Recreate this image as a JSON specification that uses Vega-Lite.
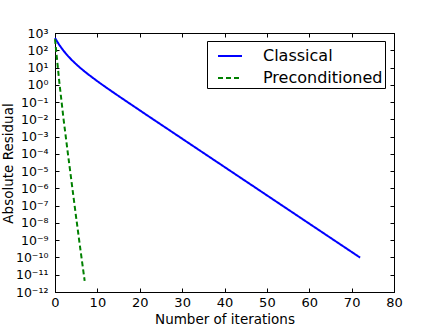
{
  "$schema": "https://vega.github.io/schema/vega-lite/v6.json",
  "width": 339,
  "height": 259,
  "autosize": {"type": "none"},
  "padding": {"left": 55, "top": 33, "right": 45, "bottom": 37},
  "background": "white",
  "config": {
    "font": "DejaVu Sans",
    "view": {"stroke": "#000", "strokeWidth": 1},
    "axis": {
      "grid": false,
      "domainColor": "#000",
      "tickColor": "#000",
      "labelColor": "#000",
      "titleColor": "#000",
      "labelFontSize": 13,
      "titleFontSize": 13.5,
      "titleFontWeight": "normal",
      "tickSize": -4,
      "labelFlush": false,
      "labelOverlap": false
    },
    "legend": {
      "symbolType": "stroke",
      "symbolSize": 576,
      "symbolStrokeWidth": 2,
      "labelFontSize": 16,
      "labelColor": "#000",
      "padding": 2,
      "rowPadding": 1,
      "symbolOffset": 8,
      "labelOffset": 20,
      "strokeColor": "#000",
      "fillColor": "#fff",
      "cornerRadius": 0
    }
  },
  "data": {
    "values": [
      {"iteration": 0, "residual": 513, "method": "Classical"},
      {"iteration": 1, "residual": 206, "method": "Classical"},
      {"iteration": 2, "residual": 94.8, "method": "Classical"},
      {"iteration": 3, "residual": 48.4, "method": "Classical"},
      {"iteration": 4, "residual": 26.5, "method": "Classical"},
      {"iteration": 5, "residual": 15.5, "method": "Classical"},
      {"iteration": 6, "residual": 9.38, "method": "Classical"},
      {"iteration": 7, "residual": 5.86, "method": "Classical"},
      {"iteration": 8, "residual": 3.75, "method": "Classical"},
      {"iteration": 9, "residual": 2.45, "method": "Classical"},
      {"iteration": 10, "residual": 1.615, "method": "Classical"},
      {"iteration": 11, "residual": 1.074, "method": "Classical"},
      {"iteration": 12, "residual": 0.721, "method": "Classical"},
      {"iteration": 13, "residual": 0.4875, "method": "Classical"},
      {"iteration": 14, "residual": 0.33, "method": "Classical"},
      {"iteration": 15, "residual": 0.2244, "method": "Classical"},
      {"iteration": 16, "residual": 0.1528, "method": "Classical"},
      {"iteration": 17, "residual": 0.1042, "method": "Classical"},
      {"iteration": 18, "residual": 0.0713, "method": "Classical"},
      {"iteration": 19, "residual": 0.04875, "method": "Classical"},
      {"iteration": 20, "residual": 0.03334, "method": "Classical"},
      {"iteration": 21, "residual": 0.0227, "method": "Classical"},
      {"iteration": 22, "residual": 1.556e-2, "method": "Classical"},
      {"iteration": 23, "residual": 1.067e-2, "method": "Classical"},
      {"iteration": 24, "residual": 7.31e-3, "method": "Classical"},
      {"iteration": 25, "residual": 5.01e-3, "method": "Classical"},
      {"iteration": 26, "residual": 3.44e-3, "method": "Classical"},
      {"iteration": 27, "residual": 2.36e-3, "method": "Classical"},
      {"iteration": 28, "residual": 1.61e-3, "method": "Classical"},
      {"iteration": 29, "residual": 1.11e-3, "method": "Classical"},
      {"iteration": 30, "residual": 7.59e-4, "method": "Classical"},
      {"iteration": 31, "residual": 5.2e-4, "method": "Classical"},
      {"iteration": 32, "residual": 3.56e-4, "method": "Classical"},
      {"iteration": 33, "residual": 2.44e-4, "method": "Classical"},
      {"iteration": 34, "residual": 1.67e-4, "method": "Classical"},
      {"iteration": 35, "residual": 1.15e-4, "method": "Classical"},
      {"iteration": 36, "residual": 7.87e-5, "method": "Classical"},
      {"iteration": 37, "residual": 5.4e-5, "method": "Classical"},
      {"iteration": 38, "residual": 3.7e-5, "method": "Classical"},
      {"iteration": 39, "residual": 2.54e-5, "method": "Classical"},
      {"iteration": 40, "residual": 1.74e-5, "method": "Classical"},
      {"iteration": 41, "residual": 1.19e-5, "method": "Classical"},
      {"iteration": 42, "residual": 8.17e-6, "method": "Classical"},
      {"iteration": 43, "residual": 5.6e-6, "method": "Classical"},
      {"iteration": 44, "residual": 3.84e-6, "method": "Classical"},
      {"iteration": 45, "residual": 2.63e-6, "method": "Classical"},
      {"iteration": 46, "residual": 1.8e-6, "method": "Classical"},
      {"iteration": 47, "residual": 1.24e-6, "method": "Classical"},
      {"iteration": 48, "residual": 8.47e-7, "method": "Classical"},
      {"iteration": 49, "residual": 5.81e-7, "method": "Classical"},
      {"iteration": 50, "residual": 3.98e-7, "method": "Classical"},
      {"iteration": 51, "residual": 2.73e-7, "method": "Classical"},
      {"iteration": 52, "residual": 1.87e-7, "method": "Classical"},
      {"iteration": 53, "residual": 1.28e-7, "method": "Classical"},
      {"iteration": 54, "residual": 8.79e-8, "method": "Classical"},
      {"iteration": 55, "residual": 6.03e-8, "method": "Classical"},
      {"iteration": 56, "residual": 4.13e-8, "method": "Classical"},
      {"iteration": 57, "residual": 2.83e-8, "method": "Classical"},
      {"iteration": 58, "residual": 1.94e-8, "method": "Classical"},
      {"iteration": 59, "residual": 1.33e-8, "method": "Classical"},
      {"iteration": 60, "residual": 9.12e-9, "method": "Classical"},
      {"iteration": 61, "residual": 6.25e-9, "method": "Classical"},
      {"iteration": 62, "residual": 4.29e-9, "method": "Classical"},
      {"iteration": 63, "residual": 2.94e-9, "method": "Classical"},
      {"iteration": 64, "residual": 2.01e-9, "method": "Classical"},
      {"iteration": 65, "residual": 1.38e-9, "method": "Classical"},
      {"iteration": 66, "residual": 9.46e-10, "method": "Classical"},
      {"iteration": 67, "residual": 6.49e-10, "method": "Classical"},
      {"iteration": 68, "residual": 4.45e-10, "method": "Classical"},
      {"iteration": 69, "residual": 3.05e-10, "method": "Classical"},
      {"iteration": 70, "residual": 2.09e-10, "method": "Classical"},
      {"iteration": 71, "residual": 1.43e-10, "method": "Classical"},
      {"iteration": 72, "residual": 9.82e-11, "method": "Classical"},
      {"iteration": 0, "residual": 447, "method": "Preconditioned"},
      {"iteration": 1, "residual": 1.585, "method": "Preconditioned"},
      {"iteration": 2, "residual": 1.122e-2, "method": "Preconditioned"},
      {"iteration": 3, "residual": 1.259e-4, "method": "Preconditioned"},
      {"iteration": 4, "residual": 1.585e-6, "method": "Preconditioned"},
      {"iteration": 5, "residual": 1.995e-8, "method": "Preconditioned"},
      {"iteration": 6, "residual": 2.818e-10, "method": "Preconditioned"},
      {"iteration": 7, "residual": 4.467e-12, "method": "Preconditioned"}
    ]
  },
  "resolve": {"axis": {"x": "independent", "y": "independent"}},
  "layer": [
    {
      "mark": {"type": "line", "strokeWidth": 2},
      "encoding": {
        "x": {
          "field": "iteration",
          "type": "quantitative",
          "scale": {"domain": [0, 80], "nice": false, "zero": false},
          "axis": {
            "orient": "bottom",
            "values": [0, 10, 20, 30, 40, 50, 60, 70, 80],
            "format": "d",
            "labelPadding": 8,
            "title": "Number of iterations",
            "titlePadding": 3
          }
        },
        "y": {
          "field": "residual",
          "type": "quantitative",
          "scale": {"type": "log", "domain": [1e-12, 1000], "nice": false},
          "axis": {
            "orient": "left",
            "values": [1e-12, 1e-11, 1e-10, 1e-9, 1e-8, 1e-7, 1e-6, 1e-5, 1e-4, 1e-3, 1e-2, 1e-1, 1, 10, 100, 1000],
            "labelExpr": "['10⁻¹²','10⁻¹¹','10⁻¹⁰','10⁻⁹','10⁻⁸','10⁻⁷','10⁻⁶','10⁻⁵','10⁻⁴','10⁻³','10⁻²','10⁻¹','10⁰','10¹','10²','10³'][round(log(datum.value)/LN10)+12]",
            "labelFontSize": 12.5,
            "labelPadding": 11,
            "title": "Absolute Residual",
            "titleX": -40,
            "titleY": 130,
            "titleAlign": "center"
          }
        },
        "color": {
          "field": "method",
          "type": "nominal",
          "scale": {"domain": ["Classical", "Preconditioned"], "range": ["#0000ff", "#008000"]},
          "legend": {"orient": "none", "legendX": 152, "legendY": 8, "title": null}
        },
        "strokeDash": {
          "field": "method",
          "type": "nominal",
          "scale": {"domain": ["Classical", "Preconditioned"], "range": [[1, 0], [5, 3]]},
          "legend": {"orient": "none", "legendX": 152, "legendY": 8, "title": null}
        }
      }
    },
    {
      "mark": {"type": "point", "opacity": 0},
      "encoding": {
        "x": {
          "field": "iteration",
          "type": "quantitative",
          "axis": {"orient": "top", "values": [0, 10, 20, 30, 40, 50, 60, 70, 80], "labels": false, "title": null}
        },
        "y": {
          "field": "residual",
          "type": "quantitative",
          "axis": {
            "orient": "right",
            "values": [1e-12, 1e-11, 1e-10, 1e-9, 1e-8, 1e-7, 1e-6, 1e-5, 1e-4, 1e-3, 1e-2, 1e-1, 1, 10, 100, 1000],
            "labels": false,
            "title": null
          }
        }
      }
    }
  ]
}
